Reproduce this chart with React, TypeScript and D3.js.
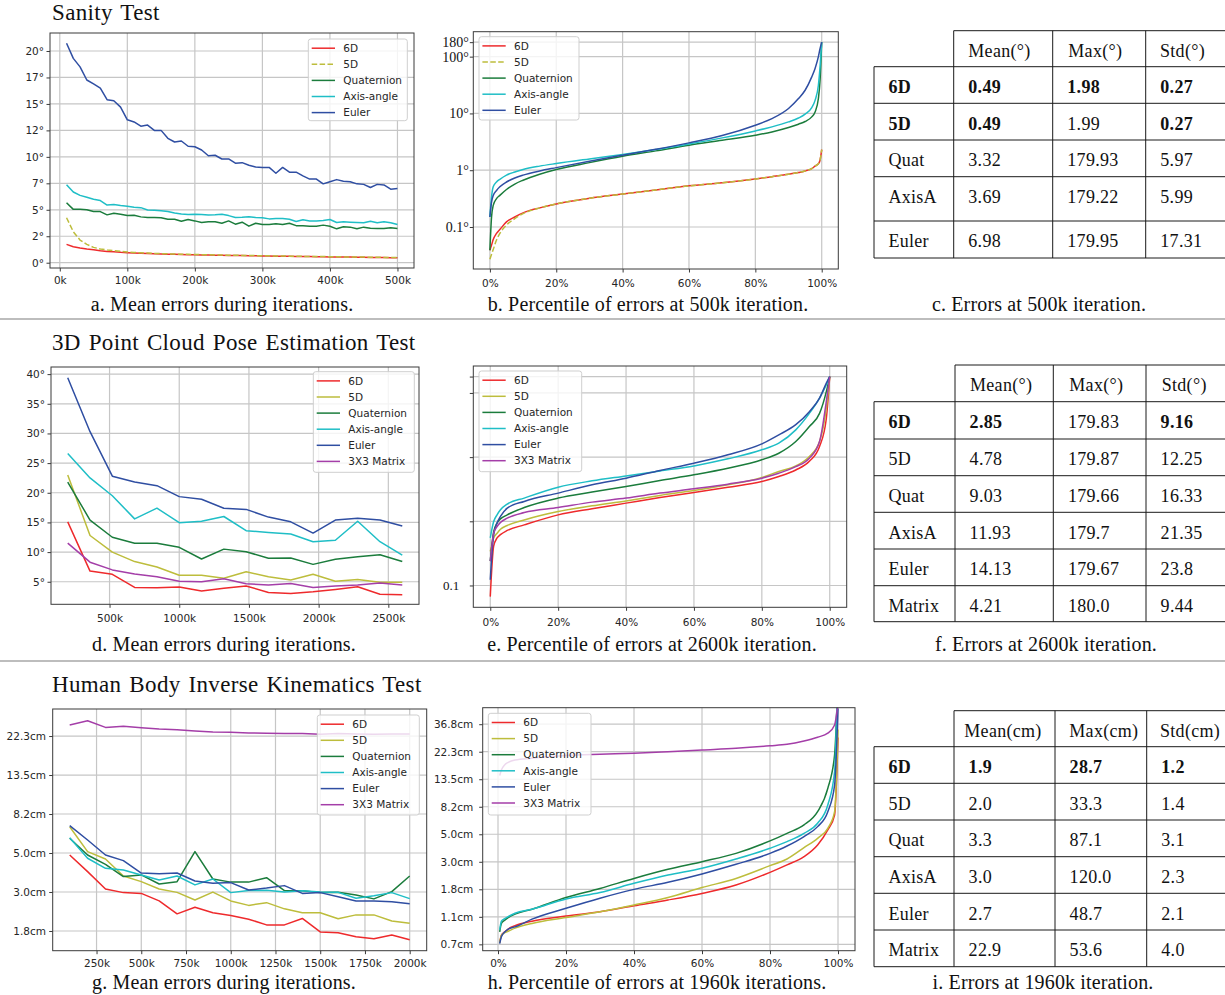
import React, { useEffect, useRef } from "react";
import * as d3 from "d3";

const W = 1225;
const H = 995;

const NAMES = ["6D", "5D", "Quaternion", "Axis-angle", "Euler", "3X3 Matrix"];
const COLORS = ["#ee2a2c", "#bdbd3c", "#1b7c3c", "#1fbec6", "#2f4ea2", "#a43ea8"];
const GRID = "#c6c6c6";
const SPINE = "#3a3a3a";
const SANS = "DejaVu Sans";
const SERIF = "Liberation Serif";

/* a. sanity test: mean error (deg) per 10k iterations */
const A_ITER = d3.range(10, 501, 10);
const A_6D = [1.73, 1.51, 1.39, 1.29, 1.23, 1.14, 1.07, 1.04, 0.98, 0.95, 0.92, 0.89, 0.87, 0.85, 0.83, 0.81, 0.79, 0.77, 0.76, 0.75, 0.73, 0.72, 0.71, 0.7, 0.69, 0.68, 0.67, 0.66, 0.65, 0.64, 0.63, 0.62, 0.61, 0.6, 0.59, 0.58, 0.58, 0.57, 0.56, 0.55, 0.54, 0.54, 0.53, 0.52, 0.51, 0.5, 0.5, 0.49, 0.48, 0.47];
const A_5D = [4.25, 2.93, 2.14, 1.73, 1.45, 1.3, 1.2, 1.14, 1.08, 1.01, 0.97, 0.94, 0.91, 0.88, 0.86, 0.84, 0.82, 0.8, 0.79, 0.77, 0.76, 0.75, 0.73, 0.72, 0.71, 0.7, 0.69, 0.68, 0.67, 0.66, 0.65, 0.64, 0.63, 0.62, 0.61, 0.6, 0.59, 0.58, 0.58, 0.57, 0.56, 0.55, 0.54, 0.54, 0.53, 0.52, 0.51, 0.5, 0.5, 0.49];
const A_QUAT = [5.67, 5.04, 5.04, 5.0, 4.83, 4.83, 4.52, 4.67, 4.57, 4.45, 4.48, 4.33, 4.27, 4.27, 4.24, 4.1, 4.1, 3.92, 4.08, 3.95, 3.8, 3.86, 3.86, 3.73, 3.95, 3.64, 3.83, 3.45, 3.73, 3.6, 3.6, 3.67, 3.6, 3.73, 3.5, 3.48, 3.45, 3.45, 3.55, 3.45, 3.2, 3.39, 3.36, 3.2, 3.36, 3.26, 3.23, 3.23, 3.3, 3.23];
const A_AXIS = [7.37, 6.68, 6.36, 6.18, 6.0, 5.87, 5.45, 5.5, 5.4, 5.33, 5.24, 5.2, 4.98, 4.95, 4.9, 4.83, 4.7, 4.6, 4.55, 4.57, 4.55, 4.5, 4.52, 4.57, 4.45, 4.27, 4.3, 4.35, 4.27, 4.24, 4.14, 4.17, 4.17, 4.1, 3.9, 4.05, 3.95, 3.95, 3.98, 4.08, 3.8, 3.86, 3.83, 3.8, 3.77, 3.92, 3.77, 3.86, 3.77, 3.6];
const A_EULER = [20.73, 19.3, 18.5, 17.26, 16.9, 16.5, 15.4, 15.3, 14.7, 13.5, 13.3, 12.9, 13.0, 12.5, 12.5, 11.75, 11.4, 11.5, 11.0, 10.95, 10.65, 10.1, 10.15, 9.8, 9.8, 9.4, 9.45, 9.2, 9.05, 9.0, 9.0, 8.45, 9.0, 8.55, 8.55, 8.2, 7.9, 7.9, 7.45, 7.65, 7.85, 7.7, 7.65, 7.45, 7.4, 7.1, 7.4, 7.35, 6.95, 7.0];
const A_X_TICKS = [0, 100, 200, 300, 400, 500];
const A_Y_TICKS = [0, 2.5, 5, 7.5, 10, 12.5, 15, 17.5, 20];

/* b. percentile of errors at 500k */
const B_PCT = [0, 0.5, 1, 2, 3, 5, 7.5, 10, 15, 20, 30, 40, 50, 60, 70, 80, 85, 90, 93, 95, 97, 98, 99, 99.5, 100];
const B_6D = [0.039, 0.048, 0.06, 0.077, 0.09, 0.123, 0.15, 0.177, 0.217, 0.255, 0.32, 0.38, 0.45, 0.53, 0.6, 0.7, 0.77, 0.85, 0.91, 0.97, 1.07, 1.18, 1.3, 1.5, 2.3];
const B_5D = [0.027, 0.033, 0.04, 0.059, 0.077, 0.108, 0.14, 0.172, 0.217, 0.255, 0.32, 0.38, 0.45, 0.53, 0.6, 0.7, 0.77, 0.85, 0.91, 0.97, 1.07, 1.18, 1.3, 1.5, 2.3];
const B_QUAT = [0.039, 0.15, 0.24, 0.316, 0.36, 0.457, 0.57, 0.667, 0.85, 1.03, 1.36, 1.76, 2.19, 2.76, 3.37, 4.13, 4.72, 5.64, 6.46, 7.2, 8.7, 10.6, 18.3, 38, 180];
const B_AXIS = [0.15, 0.34, 0.51, 0.62, 0.69, 0.82, 0.93, 1.03, 1.18, 1.31, 1.58, 1.89, 2.31, 2.9, 3.71, 4.92, 5.8, 7.1, 8.3, 9.7, 12.7, 17, 31.4, 66, 180];
const B_EULER = [0.15, 0.275, 0.36, 0.44, 0.51, 0.62, 0.73, 0.82, 0.97, 1.11, 1.44, 1.84, 2.34, 3.03, 4.07, 6.2, 8.1, 12.2, 18.3, 25.6, 44, 62, 100, 138, 180];
const PCT_TICKS = [0, 20, 40, 60, 80, 100];
const B_Y_TICKS = [0.1, 1, 10, 100, 180];
const B_Y_LABELS = ["0.1°", "1°", "10°", "100°", "180°"];

/* d. point cloud: mean error (deg) */
const D_ITER = [200, 360, 520, 680, 840, 1000, 1160, 1320, 1480, 1640, 1800, 1960, 2120, 2280, 2440, 2600];
const D_6D = [15.1, 6.8, 6.25, 4.05, 4.0, 4.1, 3.43, 3.9, 4.3, 3.2, 3.04, 3.3, 3.7, 4.15, 2.9, 2.8];
const D_5D = [23.0, 12.8, 10.0, 8.4, 7.5, 6.1, 6.1, 5.6, 6.7, 5.85, 5.3, 6.25, 5.1, 5.4, 4.9, 4.9];
const D_QUAT = [21.8, 15.4, 12.5, 11.5, 11.5, 10.8, 8.83, 10.5, 10.06, 8.95, 8.99, 7.93, 8.8, 9.2, 9.56, 8.4];
const D_AXIS = [26.6, 22.5, 19.5, 15.6, 17.4, 14.95, 15.2, 16.0, 13.6, 13.3, 13.05, 11.75, 12.0, 15.2, 11.75, 9.5];
const D_EULER = [39.4, 30.3, 22.8, 21.8, 21.2, 19.35, 18.9, 17.4, 17.2, 15.9, 15.1, 13.2, 15.4, 15.7, 15.4, 14.4];
const D_MAT = [11.5, 8.3, 7.0, 6.3, 5.85, 5.1, 5.0, 5.5, 4.66, 4.44, 4.7, 4.05, 4.3, 4.44, 4.78, 4.44];
const D_X_TICKS = [500, 1000, 1500, 2000, 2500];
const D_Y_TICKS = [5, 10, 15, 20, 25, 30, 35, 40];

/* e. percentile of errors at 2600k */
const E_PCT = [0, 1, 2, 3, 5, 10, 20, 30, 40, 50, 60, 70, 80, 85, 90, 94, 97, 99, 100];
const E_6D = [0.067, 0.41, 0.55, 0.62, 0.72, 0.88, 1.26, 1.57, 1.92, 2.35, 2.81, 3.4, 4.17, 4.99, 6.3, 8.6, 14.6, 40, 180];
const E_5D = [0.34, 0.55, 0.65, 0.75, 0.86, 1.05, 1.42, 1.74, 2.08, 2.53, 3.02, 3.7, 4.82, 5.97, 7.3, 10.2, 17.5, 58, 180];
const E_QUAT = [0.24, 0.69, 0.94, 1.09, 1.26, 1.64, 2.3, 2.85, 3.49, 4.32, 5.3, 6.7, 9.1, 11.5, 17.5, 30, 48, 105, 180];
const E_AXIS = [0.55, 0.99, 1.26, 1.51, 1.85, 2.3, 3.4, 4.27, 5.1, 6.1, 7.3, 9.4, 13.0, 16.5, 26.6, 48, 83, 134, 180];
const E_EULER = [0.123, 0.62, 0.94, 1.19, 1.6, 2.04, 2.75, 3.7, 4.7, 6.2, 8.05, 10.9, 16.1, 22.2, 32, 51, 83, 142, 180];
const E_MAT = [0.24, 0.65, 0.83, 0.96, 1.12, 1.37, 1.64, 1.99, 2.3, 2.75, 3.21, 3.79, 4.7, 5.6, 7.1, 9.6, 17.5, 74, 180];
const E_Y_TICKS = [0.1, 1, 10, 100, 180];
const E_Y_LABELS = ["0.1", "", "", "", ""];

/* g. human body IK: mean error (cm) */
const G_ITER = [100, 200, 300, 400, 500, 600, 700, 800, 900, 1000, 1100, 1200, 1300, 1400, 1500, 1600, 1700, 1800, 1900, 2000];
const G_6D = [4.83, 3.9, 3.12, 2.98, 2.95, 2.68, 2.27, 2.47, 2.3, 2.22, 2.12, 1.97, 1.97, 2.14, 1.8, 1.78, 1.69, 1.65, 1.73, 1.63];
const G_5D = [6.94, 5.04, 4.59, 3.69, 3.43, 3.12, 2.99, 2.71, 3.0, 2.68, 2.53, 2.62, 2.42, 2.3, 2.3, 2.13, 2.24, 2.24, 2.07, 2.01];
const G_QUAT = [5.98, 4.83, 4.28, 3.66, 3.74, 3.33, 3.43, 5.04, 3.55, 3.41, 3.41, 3.61, 3.06, 3.05, 2.98, 2.99, 2.89, 2.75, 3.02, 3.69];
const G_AXIS = [6.03, 4.63, 4.07, 3.98, 3.74, 3.5, 3.69, 3.29, 3.55, 2.98, 3.06, 3.07, 3.0, 3.05, 3.0, 2.99, 2.77, 2.86, 2.98, 2.76];
const G_EULER = [7.03, 5.85, 4.83, 4.49, 3.83, 3.8, 3.83, 3.46, 3.36, 3.39, 3.08, 3.16, 3.26, 2.95, 2.98, 2.83, 2.68, 2.68, 2.65, 2.58];
const G_MAT = [25.6, 27.0, 24.8, 25.2, 24.7, 24.3, 24.1, 23.7, 23.4, 23.3, 23.1, 23.0, 22.9, 22.9, 22.7, 22.9, 22.8, 22.7, 22.8, 22.8];
const G_X_TICKS = [250, 500, 750, 1000, 1250, 1500, 1750, 2000];
const CM_TICKS = [0.67, 1.105, 1.822, 3.004, 4.953, 8.166, 13.464, 22.198, 36.598];
const CM_LABELS = ["0.7cm", "1.1cm", "1.8cm", "3.0cm", "5.0cm", "8.2cm", "13.5cm", "22.3cm", "36.8cm"];

/* h. percentile of errors at 1960k */
const H_PCT = [0.5, 1, 2, 3, 5, 10, 20, 30, 40, 50, 60, 70, 80, 85, 90, 94, 97, 99, 100];
const H_6D = [0.69, 0.79, 0.84, 0.885, 0.94, 1.02, 1.12, 1.21, 1.35, 1.5, 1.69, 1.97, 2.48, 2.84, 3.3, 4.08, 5.36, 7.03, 28.7];
const H_5D = [0.69, 0.79, 0.83, 0.85, 0.9, 0.98, 1.09, 1.21, 1.37, 1.57, 1.88, 2.22, 2.8, 3.16, 3.88, 4.6, 5.52, 7.47, 33.3];
const H_QUAT = [0.84, 0.98, 1.04, 1.09, 1.16, 1.27, 1.57, 1.85, 2.22, 2.62, 3.01, 3.5, 4.39, 5.04, 5.87, 7.47, 11.4, 21, 87.1];
const H_AXIS = [0.87, 1.02, 1.07, 1.11, 1.18, 1.27, 1.53, 1.72, 2.03, 2.36, 2.67, 3.16, 3.84, 4.33, 5.04, 6.05, 8.44, 15.5, 120];
const H_EULER = [0.68, 0.77, 0.84, 0.885, 0.92, 1.06, 1.29, 1.55, 1.82, 2.07, 2.41, 2.87, 3.5, 4.0, 4.75, 5.69, 7.47, 12.1, 48.7];
const H_MAT = [14.4, 15.9, 17.5, 18.3, 19.1, 19.7, 20.7, 21.2, 21.6, 22.2, 22.9, 23.6, 24.7, 25.4, 27.0, 28.9, 31.1, 36.1, 53.6];

/* tables */
const ROWS_5 = ["6D", "5D", "Quat", "AxisA", "Euler"];
const ROWS_6 = ["6D", "5D", "Quat", "AxisA", "Euler", "Matrix"];
const DEG_HEAD = ["Mean(°)", "Max(°)", "Std(°)"];
const CM_HEAD = ["Mean(cm)", "Max(cm)", "Std(cm)"];
const C_MEAN = ["0.49", "0.49", "3.32", "3.69", "6.98"];
const C_MAX = ["1.98", "1.99", "179.93", "179.22", "179.95"];
const C_STD = ["0.27", "0.27", "5.97", "5.99", "17.31"];
const C_BOLD = [[1, 1, 1, 1], [1, 1, 0, 1]];
const F_MEAN = ["2.85", "4.78", "9.03", "11.93", "14.13", "4.21"];
const F_MAX = ["179.83", "179.87", "179.66", "179.7", "179.67", "180.0"];
const F_STD = ["9.16", "12.25", "16.33", "21.35", "23.8", "9.44"];
const F_BOLD = [[1, 1, 0, 1]];
const I_MEAN = ["1.9", "2.0", "3.3", "3.0", "2.7", "22.9"];
const I_MAX = ["28.7", "33.3", "87.1", "120.0", "48.7", "53.6"];
const I_STD = ["1.2", "1.4", "3.1", "2.3", "2.1", "4.0"];
const I_BOLD = [[1, 1, 1, 1]];

type Panel = {
  id: string;
  box: [number, number, number, number];
  x: any;
  y: any;
  xTicks: number[];
  xLabels: string[];
  yTicks: number[];
  yLabels: string[];
  ySerif?: number;
  xPad: number;
  yPad: number;
  xs: number[];
  series: number[][];
  smooth?: boolean;
  dash5D?: boolean;
  legend: [number, number, number, number];
};

const kLabels = (t: number[]) => t.map((v) => `${v}k`);
const pctLabels = PCT_TICKS.map((v) => `${v}%`);

const PANELS: Panel[] = [
  {
    id: "a", box: [50, 33, 414, 268],
    x: d3.scaleLinear().domain([-14.5, 524.5]), y: d3.scaleLinear().domain([-0.5, 21.7]),
    xTicks: A_X_TICKS, xLabels: kLabels(A_X_TICKS),
    yTicks: A_Y_TICKS, yLabels: A_Y_TICKS.map((v) => `${Math.floor(v)}°`),
    xPad: 4.6, yPad: 2.5, xs: A_ITER, series: [A_6D, A_5D, A_QUAT, A_AXIS, A_EULER],
    dash5D: true, legend: [308.3, 39, 99, 81.7],
  },
  {
    id: "b", box: [473.3, 31.7, 838.3, 269],
    x: d3.scaleLinear().domain([-5, 105]), y: d3.scaleLog().domain([0.0182, 275]),
    xTicks: PCT_TICKS, xLabels: pctLabels, yTicks: B_Y_TICKS, yLabels: B_Y_LABELS, ySerif: 14,
    xPad: 7, yPad: 1, xs: B_PCT, series: [B_6D, B_5D, B_QUAT, B_AXIS, B_EULER],
    smooth: true, dash5D: true, legend: [479, 36.7, 100, 83.3],
  },
  {
    id: "d", box: [51, 367, 419, 604.3],
    x: d3.scaleLinear().domain([80, 2720]), y: d3.scaleLinear().domain([1.2, 41.2]),
    xTicks: D_X_TICKS, xLabels: kLabels(D_X_TICKS), yTicks: D_Y_TICKS, yLabels: D_Y_TICKS.map((v) => `${v}°`),
    xPad: 6.6, yPad: 2.5, xs: D_ITER, series: [D_6D, D_5D, D_QUAT, D_AXIS, D_EULER, D_MAT],
    legend: [313.3, 371.7, 101, 100.6],
  },
  {
    id: "e", box: [473.3, 366, 846.7, 607.3],
    x: d3.scaleLinear().domain([-5, 105]), y: d3.scaleLog().domain([0.0457, 263]),
    xTicks: PCT_TICKS, xLabels: pctLabels, yTicks: E_Y_TICKS, yLabels: E_Y_LABELS, ySerif: 13,
    xPad: 7.6, yPad: 10.5, xs: E_PCT, series: [E_6D, E_5D, E_QUAT, E_AXIS, E_EULER, E_MAT],
    smooth: true, legend: [479, 371, 102.7, 100.7],
  },
  {
    id: "g", box: [52.7, 709, 426.7, 950.7],
    x: d3.scaleLinear().domain([5, 2095]), y: d3.scaleLog().domain([1.415, 31.4]),
    xTicks: G_X_TICKS, xLabels: kLabels(G_X_TICKS), yTicks: CM_TICKS.slice(2, 8), yLabels: CM_LABELS.slice(2, 8),
    xPad: 5.2, yPad: 3.2, xs: G_ITER, series: [G_6D, G_5D, G_QUAT, G_AXIS, G_EULER, G_MAT],
    legend: [317.3, 715, 102, 100],
  },
  {
    id: "h", box: [482.7, 707.7, 855, 950.7],
    x: d3.scaleLinear().domain([-4.5, 105]), y: d3.scaleLog().domain([0.597, 49.4]),
    xTicks: PCT_TICKS, xLabels: pctLabels, yTicks: CM_TICKS, yLabels: CM_LABELS,
    xPad: 5.2, yPad: 5.9, xs: H_PCT, series: [H_6D, H_5D, H_QUAT, H_AXIS, H_EULER, H_MAT],
    smooth: true, legend: [488.3, 713.3, 102.7, 101.7],
  },
];

type Table = {
  cols: number[];
  rows: number[];
  head: string[];
  headPad: number[];
  names: string[];
  cells: string[][];
  bold: number[][];
};

const TABLES: Table[] = [
  {
    cols: [874, 953.7, 1052.7, 1145.7], rows: [30.7, 66.7, 103.3, 140, 176.7, 221, 258],
    head: DEG_HEAD, headPad: [14.6, 15.6, 14.3], names: ROWS_5, cells: [C_MEAN, C_MAX, C_STD], bold: C_BOLD,
  },
  {
    cols: [874, 955, 1053.3, 1146], rows: [365, 401.7, 439, 475.7, 512.3, 549, 585.7, 621.7],
    head: DEG_HEAD, headPad: [15, 16, 15.7], names: ROWS_6, cells: [F_MEAN, F_MAX, F_STD], bold: F_BOLD,
  },
  {
    cols: [874, 954, 1055, 1146.7], rows: [710.7, 746.7, 783.3, 820, 856.7, 893.3, 930, 966.7],
    head: CM_HEAD, headPad: [10.3, 14.3, 13.3], names: ROWS_6, cells: [I_MEAN, I_MAX, I_STD], bold: I_BOLD,
  },
];

const TITLES = [
  { text: "Sanity Test", y: 20 },
  { text: "3D Point Cloud Pose Estimation Test", y: 350 },
  { text: "Human Body Inverse Kinematics Test", y: 692 },
];

const CAPTIONS = [
  { text: "a. Mean errors during iterations.", x: 222, y: 311 },
  { text: "b. Percentile of errors at 500k iteration.", x: 648, y: 311 },
  { text: "c. Errors at 500k iteration.", x: 1039, y: 311 },
  { text: "d. Mean errors during iterations.", x: 224, y: 651 },
  { text: "e. Percentile of errors at 2600k iteration.", x: 652, y: 651 },
  { text: "f. Errors at 2600k iteration.", x: 1046, y: 651 },
  { text: "g. Mean errors during iterations.", x: 224, y: 989 },
  { text: "h. Percentile of errors at 1960k iterations.", x: 657, y: 989 },
  { text: "i. Errors at 1960k iteration.", x: 1043, y: 989 },
];

const SEPARATORS = [319, 661];

function drawPanel(svg: any, p: Panel) {
  const [l, t, r, b] = p.box;
  const x = p.x.copy().range([l, r]);
  const y = p.y.copy().range([b, t]);
  const g = svg.append("g");

  /* grid */
  g.append("g")
    .selectAll("line")
    .data(p.xTicks)
    .join("line")
    .attr("x1", (d: number) => x(d))
    .attr("x2", (d: number) => x(d))
    .attr("y1", t)
    .attr("y2", b)
    .attr("stroke", GRID)
    .attr("stroke-width", 1.2);
  g.append("g")
    .selectAll("line")
    .data(p.yTicks)
    .join("line")
    .attr("x1", l)
    .attr("x2", r)
    .attr("y1", (d: number) => y(d))
    .attr("y2", (d: number) => y(d))
    .attr("stroke", GRID)
    .attr("stroke-width", 1.2);

  /* lines */
  svg
    .append("defs")
    .append("clipPath")
    .attr("id", `clip-${p.id}`)
    .append("rect")
    .attr("x", l)
    .attr("y", t)
    .attr("width", r - l)
    .attr("height", b - t);

  const line = d3
    .line<[number, number]>()
    .x((d) => x(d[0]))
    .y((d) => y(d[1]))
    .curve(p.smooth ? d3.curveMonotoneX : d3.curveLinear);

  const lg = g.append("g").attr("clip-path", `url(#clip-${p.id})`);
  p.series.forEach((vals, i) => {
    lg.append("path")
      .attr("d", line(vals.map((v, j) => [p.xs[j], v] as [number, number])))
      .attr("fill", "none")
      .attr("stroke", COLORS[i])
      .attr("stroke-width", 1.5)
      .attr("stroke-linejoin", "round")
      .attr("stroke-dasharray", p.dash5D && i === 1 ? "5.5,2.4" : null);
  });

  /* spines */
  g.append("rect")
    .attr("x", l)
    .attr("y", t)
    .attr("width", r - l)
    .attr("height", b - t)
    .attr("fill", "none")
    .attr("stroke", SPINE)
    .attr("stroke-width", 1);

  /* axes */
  const xAxis = d3
    .axisBottom(x)
    .tickValues(p.xTicks)
    .tickFormat((_: any, i: number) => p.xLabels[i])
    .tickSize(3.5)
    .tickPadding(p.xPad);
  g.append("g")
    .attr("transform", `translate(0,${b})`)
    .call(xAxis)
    .call((s: any) => s.select(".domain").remove())
    .call((s: any) => s.selectAll(".tick line").attr("stroke", SPINE))
    .call((s: any) =>
      s.selectAll(".tick text").attr("fill", "#262626").attr("font-family", SANS).attr("font-size", "10.5px")
    );

  const yAxis = d3
    .axisLeft(y)
    .tickValues(p.yTicks)
    .tickFormat((_: any, i: number) => p.yLabels[i])
    .tickSize(3.5)
    .tickPadding(p.yPad);
  g.append("g")
    .attr("transform", `translate(${l},0)`)
    .call(yAxis)
    .call((s: any) => s.select(".domain").remove())
    .call((s: any) => s.selectAll(".tick line").attr("stroke", SPINE))
    .call((s: any) =>
      s
        .selectAll(".tick text")
        .attr("fill", p.ySerif ? "#111" : "#262626")
        .attr("font-family", p.ySerif ? SERIF : SANS)
        .attr("font-size", `${p.ySerif || 10.5}px`)
    );

  /* legend */
  const [lx, ly, lw, lh] = p.legend;
  const leg = g.append("g");
  leg.append("rect")
    .attr("x", lx)
    .attr("y", ly)
    .attr("width", lw)
    .attr("height", lh)
    .attr("rx", 2.5)
    .attr("fill", "#fff")
    .attr("fill-opacity", 0.8)
    .attr("stroke", "#cfcfcf")
    .attr("stroke-width", 1);
  p.series.forEach((_, i) => {
    const cy = ly + 9.2 + i * 16.1;
    leg.append("line")
      .attr("x1", lx + 3.4)
      .attr("x2", lx + 26.7)
      .attr("y1", cy)
      .attr("y2", cy)
      .attr("stroke", COLORS[i])
      .attr("stroke-width", 1.5)
      .attr("stroke-dasharray", p.dash5D && i === 1 ? "5.5,2.4" : null);
    leg.append("text")
      .attr("x", lx + 35)
      .attr("y", cy)
      .attr("dy", "0.36em")
      .attr("font-family", SANS)
      .attr("font-size", "10.5px")
      .attr("fill", "#262626")
      .text(NAMES[i]);
  });
}

function drawTable(svg: any, tb: Table) {
  const g = svg.append("g");
  const right = W;
  const [c0, c1] = tb.cols;
  const top = tb.rows[0];
  const bottom = tb.rows[tb.rows.length - 1];
  const stroke = "#1a1a1a";

  g.append("line").attr("x1", c1).attr("x2", right).attr("y1", top).attr("y2", top);
  tb.rows.slice(1).forEach((ry) => {
    g.append("line").attr("x1", c0).attr("x2", right).attr("y1", ry).attr("y2", ry);
  });
  g.append("line").attr("x1", c0).attr("x2", c0).attr("y1", tb.rows[1]).attr("y2", bottom);
  tb.cols.slice(1).forEach((cx) => {
    g.append("line").attr("x1", cx).attr("x2", cx).attr("y1", top).attr("y2", bottom);
  });
  g.selectAll("line").attr("stroke", stroke).attr("stroke-width", 1);

  const txt = (x: number, y: number, s: string, bold: boolean) =>
    g.append("text")
      .attr("x", x)
      .attr("y", y)
      .attr("font-family", SERIF)
      .attr("font-size", "18px")
      .attr("letter-spacing", "0.3px")
      .attr("font-weight", bold ? "bold" : "normal")
      .attr("fill", "#111")
      .text(s);

  tb.head.forEach((h, j) => txt(tb.cols[j + 1] + tb.headPad[j], top + 25.8, h, false));
  tb.names.forEach((name, i) => {
    const by = tb.rows[i + 1] + 26.3;
    const bold = tb.bold[i] || [];
    txt(c0 + 14.4, by, name, !!bold[0]);
    tb.cells.forEach((col, j) => txt(tb.cols[j + 1] + 14.6, by, col[i], !!bold[j + 1]));
  });
}

const App: React.FC = () => {
  const svgRef = useRef<SVGSVGElement | null>(null);

  useEffect(() => {
    if (!svgRef.current) return;
    const svg = d3.select(svgRef.current);
    svg.selectAll("*").remove();

    svg.append("rect").attr("width", W).attr("height", H).attr("fill", "#fff");

    SEPARATORS.forEach((sy) => {
      svg.append("line")
        .attr("x1", 0)
        .attr("x2", W)
        .attr("y1", sy)
        .attr("y2", sy)
        .attr("stroke", "#bdbdbd")
        .attr("stroke-width", 2);
    });

    TITLES.forEach((t) => {
      svg.append("text")
        .attr("x", 52)
        .attr("y", t.y)
        .attr("font-family", SERIF)
        .attr("font-size", "23px")
        .attr("letter-spacing", "0.35px")
        .attr("word-spacing", "1.8px")
        .attr("fill", "#111")
        .text(t.text);
    });

    PANELS.forEach((p) => drawPanel(svg, p));
    TABLES.forEach((tb) => drawTable(svg, tb));

    CAPTIONS.forEach((c) => {
      svg.append("text")
        .attr("x", c.x)
        .attr("y", c.y)
        .attr("text-anchor", "middle")
        .attr("font-family", SERIF)
        .attr("font-size", "20px")
        .attr("letter-spacing", "0.15px")
        .attr("fill", "#111")
        .text(c.text);
    });
  }, []);

  return (
    <div style={{ position: "absolute", left: 0, top: 0, width: W, height: H, background: "#fff" }}>
      <svg ref={svgRef} width={W} height={H} style={{ display: "block" }} />
    </div>
  );
};

export default App;
